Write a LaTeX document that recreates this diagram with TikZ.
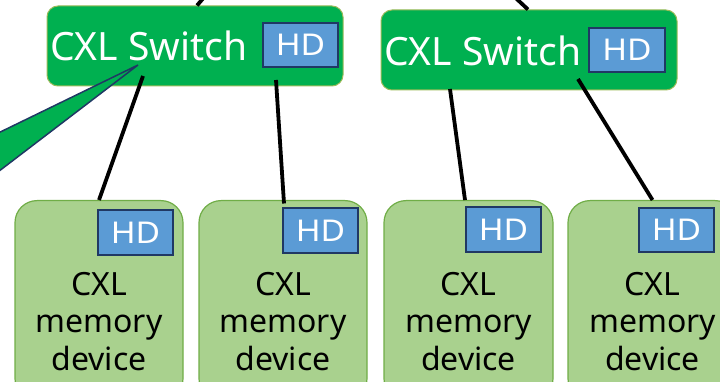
\documentclass[tikz,border=0pt]{standalone}
\usepackage{fontspec}
\setmainfont{Noto Sans}
\definecolor{swgreen}{HTML}{00B050}
\definecolor{swedge}{HTML}{9BBB59}
\definecolor{hdfill}{HTML}{5B9BD5}
\definecolor{hdedge}{HTML}{203864}
\definecolor{memfill}{HTML}{A9D18E}
\definecolor{memedge}{HTML}{70AD47}
\tikzset{
  switchbox/.style={draw=swedge, line width=1pt, fill=swgreen, rounded corners=11pt,
    minimum width=296pt, minimum height=80pt, inner sep=0pt},
  switchtext/.style={text=white, font=\fontsize{39}{44}\selectfont, inner sep=0pt, anchor=base west},
  hdbox/.style={draw=hdedge, line width=2pt, fill=hdfill, text=white,
    minimum width=75pt, minimum height=44pt, inner sep=0pt,
    font=\fontsize{30}{32}\selectfont\addfontfeatures{FakeStretch=1.12}},
  membox/.style={draw=memedge, line width=1.2pt, fill=memfill, rounded corners=22pt,
    minimum width=168pt, minimum height=200pt, inner sep=0pt, anchor=north},
  memtext/.style={text=black, align=center, inner sep=0pt, anchor=base,
    font=\fontsize{32}{37.5}\selectfont},
  link/.style={draw=black, line width=3.8pt},
  pointer/.style={draw=hdedge, line width=1.5pt, fill=swgreen, line join=miter}
}
\begin{document}
\begin{tikzpicture}[x=1pt, y=-1pt]
\useasboundingbox (0,0) rectangle (720,382);

% uplinks leaving the top edge
\coordinate (upL) at (212,-12);
\coordinate (upR) at (505,-12);

% switches
\node[switchbox] (swL) at (195,46) {};
\node[switchbox] (swR) at (529,50) {};
\draw[link] (upL) -- (swL.north -| 197,0);
\draw[link] (upR) -- (swR.north -| 528,0);
\node[switchtext] (swLt) at (50,61) {CXL Switch};
\node[switchtext] (swRt) at (384,66) {CXL Switch};
\node[hdbox] (hdL) at (300.5,45) {HD};
\node[hdbox, minimum width=76pt] (hdR) at (627,50) {HD};

% memory devices
\node[membox] (mem1) at (99,200) {};
\node[membox] (mem2) at (283,200) {};
\node[membox, minimum width=169pt] (mem3) at (468.5,200) {};
\node[membox, minimum width=169pt] (mem4) at (652.5,200) {};
\node[hdbox] (hd1) at (135.5,232.5) {HD};
\node[hdbox] (hd2) at (320.5,230.5) {HD};
\node[hdbox] (hd3) at (503.5,229.5) {HD};
\node[hdbox] (hd4) at (676.5,230) {HD};
% the base anchor of a multi-line node sits on its last line
\node[memtext] (mt1) at (99,370) {CXL\\memory\\device};
\node[memtext] (mt2) at (283,370) {CXL\\memory\\device};
\node[memtext] (mt3) at (468.5,370) {CXL\\memory\\device};
\node[memtext] (mt4) at (652.5,370) {CXL\\memory\\device};

% links from the switches down to the devices
\coordinate (s1) at (143,76);
\coordinate (s2) at (276,80);
\coordinate (s3) at (450,89);
\coordinate (s4) at (578,79);
\draw[link] (s1) -- (mem1.north);
\draw[link] (s2) -- ([xshift=2pt,yshift=4pt]hd2.north west);
\draw[link] (s3) -- (mem3.north -| hd3.north west);
\draw[link] (s4) -- (mem4.north);

% callout tail pointing into the left switch
\coordinate (tip) at (138,65);
\coordinate (tailA) at (-10,137);
\coordinate (tailB) at (-10,178);
\draw[pointer] (tailA) -- (tip) -- (tailB) -- cycle;
\end{tikzpicture}
\end{document}
